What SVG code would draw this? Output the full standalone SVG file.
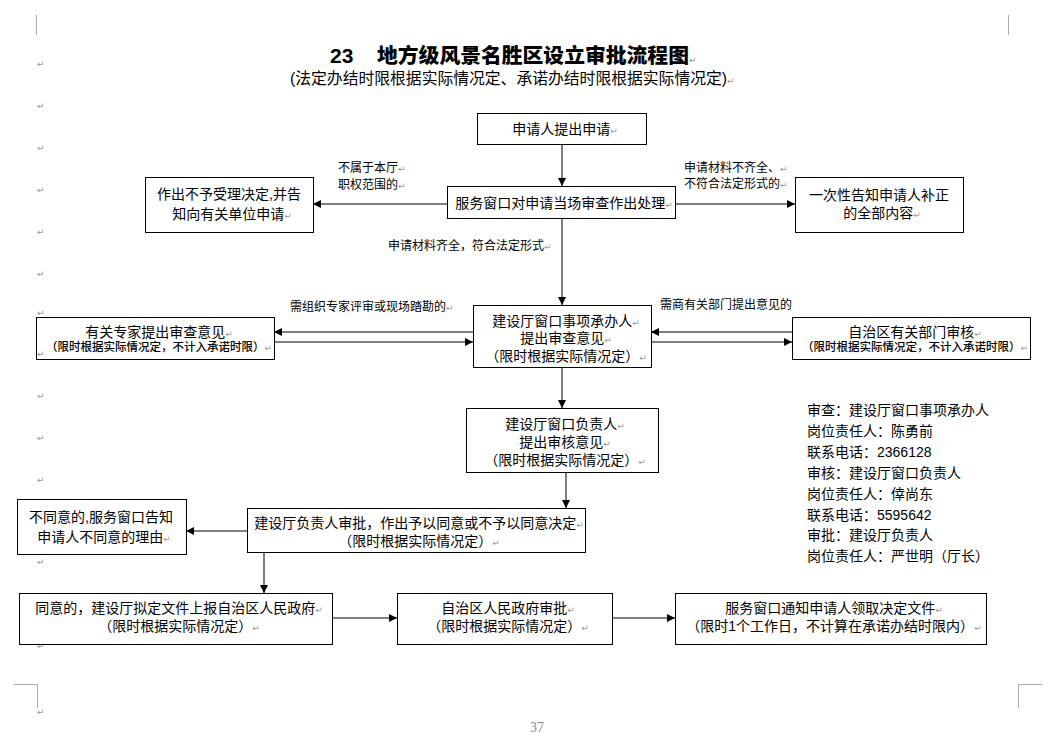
<svg xmlns="http://www.w3.org/2000/svg" width="1055" height="743" viewBox="0 0 1055 743">
<defs>
<marker id="ah" viewBox="0 0 10 10" refX="10" refY="5" markerWidth="9" markerHeight="8" orient="auto" markerUnits="userSpaceOnUse">
<path d="M0,0 L10,5 L0,10 z" fill="#000"/>
</marker>
<style>
.box{fill:#fff;stroke:#000;stroke-width:1}
.t{font-family:"Liberation Sans","Noto Sans CJK SC",sans-serif;font-size:14px;fill:#000;text-anchor:middle}
.ts{font-family:"Liberation Sans","Noto Sans CJK SC",sans-serif;font-size:11.5px;font-weight:500;fill:#000;text-anchor:middle}
.lb{font-family:"Liberation Sans","Noto Sans CJK SC",sans-serif;font-size:12px;fill:#000}
.info{font-family:"Liberation Sans","Noto Sans CJK SC",sans-serif;font-size:14px;fill:#000}
.pm{font-family:"DejaVu Sans",sans-serif;font-size:9px;fill:#999}
.c{fill:none;stroke:#000;stroke-width:1;marker-end:url(#ah)}
.crn{fill:none;stroke:#aaa;stroke-width:1}
</style>
</defs>
<rect width="1055" height="743" fill="#fff"/>

<g id="page-marks">
<path class="crn" d="M36.5,15 V35"/>
<path class="crn" d="M1008.5,15 V35"/>
<path class="crn" d="M14,684.5 H37.5 V708"/>
<path class="crn" d="M1042,684.5 H1018.5 V708"/>
<text x="537" y="732" font-family="Liberation Serif,serif" font-size="14" fill="#888" text-anchor="middle">37</text>
<text class="pm" x="37" y="67">↵</text>
<text class="pm" x="37" y="109">↵</text>
<text class="pm" x="37" y="151">↵</text>
<text class="pm" x="37" y="193">↵</text>
<text class="pm" x="37" y="235">↵</text>
<text class="pm" x="37" y="277">↵</text>
<text class="pm" x="37" y="316">↵</text>
<text class="pm" x="37" y="399">↵</text>
<text class="pm" x="37" y="441">↵</text>
<text class="pm" x="37" y="483">↵</text>
<text class="pm" x="37" y="565">↵</text>
<text class="pm" x="37" y="649">↵</text>
<text class="pm" x="37" y="715">↵</text>
</g>

<g id="title">
<text x="330" y="63" font-family="Liberation Sans,sans-serif" font-size="21" font-weight="bold" fill="#000">23</text>
<text x="377" y="63" font-family="Liberation Sans,Noto Sans CJK SC,sans-serif" font-size="20.8" font-weight="900" fill="#000">地方级风景名胜区设立审批流程图<tspan class="pm" font-weight="normal">↵</tspan></text>
<text x="290" y="84" font-family="Liberation Sans,Noto Sans CJK SC,sans-serif" font-size="15.8" fill="#000">(法定办结时限根据实际情况定、承诺办结时限根据实际情况定)<tspan class="pm">↵</tspan></text>
</g>

<g id="connectors">
<path class="c" d="M562,144 V186"/>
<path class="c" d="M447,204 H313"/>
<path class="c" d="M675,204 H795"/>
<path class="c" d="M562,218 V305"/>
<path class="c" d="M473,332 H274"/>
<path class="c" d="M274,342 H473"/>
<path class="c" d="M792,332 H651"/>
<path class="c" d="M651,342 H792"/>
<path class="c" d="M562,367 V408"/>
<path class="c" d="M566,472 V508"/>
<path class="c" d="M247,531 H186"/>
<path class="c" d="M264,552 V593"/>
<path class="c" d="M332,618 H397"/>
<path class="c" d="M612,618 H675"/>
</g>

<g id="labels">
<text class="lb" x="338" y="172">不属于本厅<tspan class="pm">↵</tspan></text>
<text class="lb" x="338" y="189">职权范围的<tspan class="pm">↵</tspan></text>
<text class="lb" x="684" y="172">申请材料不齐全、<tspan class="pm">↵</tspan></text>
<text class="lb" x="684" y="188">不符合法定形式的<tspan class="pm">↵</tspan></text>
<text class="lb" x="388" y="250">申请材料齐全，符合法定形式<tspan class="pm">↵</tspan></text>
<text class="lb" x="290" y="311">需组织专家评审或现场踏勘的<tspan class="pm">↵</tspan></text>
<text class="lb" x="660" y="309">需商有关部门提出意见的</text>
</g>

<g id="n1">
<rect class="box" x="477.5" y="113.5" width="169" height="31"/>
<text class="t" x="565" y="134">申请人提出申请<tspan class="pm">↵</tspan></text>
</g>
<g id="n2">
<rect class="box" x="447.5" y="186.5" width="228" height="32"/>
<text class="t" x="564" y="208">服务窗口对申请当场审查作出处理<tspan class="pm">↵</tspan></text>
</g>
<g id="n3">
<rect class="box" x="145.5" y="177.5" width="168" height="55"/>
<text class="t" x="229" y="199">作出不予受理决定,并告</text>
<text class="t" x="232" y="219">知向有关单位申请<tspan class="pm">↵</tspan></text>
</g>
<g id="n4">
<rect class="box" x="795.5" y="177.5" width="168" height="55"/>
<text class="t" x="879" y="200">一次性告知申请人补正</text>
<text class="t" x="882" y="218">的全部内容<tspan class="pm">↵</tspan></text>
</g>
<g id="n5">
<rect class="box" x="473.5" y="305.5" width="178" height="62"/>
<text class="t" x="566" y="326">建设厅窗口事项承办人<tspan class="pm">↵</tspan></text>
<text class="t" x="566" y="343">提出审查意见<tspan class="pm">↵</tspan></text>
<text class="t" x="566" y="361">（限时根据实际情况定）<tspan class="pm">↵</tspan></text>
</g>
<g id="n6">
<rect class="box" x="36.5" y="317.5" width="238" height="42"/>
<text class="t" x="159" y="337">有关专家提出审查意见<tspan class="pm">↵</tspan></text>
<text class="ts" x="159" y="351">（限时根据实际情况定，不计入承诺时限）<tspan class="pm" font-weight="normal">↵</tspan></text>
<text class="pm" x="37" y="357">↵</text>
</g>
<g id="n7">
<rect class="box" x="792.5" y="317.5" width="238" height="42"/>
<text class="t" x="915" y="337">自治区有关部门审核<tspan class="pm">↵</tspan></text>
<text class="ts" x="915" y="351">（限时根据实际情况定，不计入承诺时限）<tspan class="pm" font-weight="normal">↵</tspan></text>
</g>
<g id="n8">
<rect class="box" x="466.5" y="408.5" width="192" height="64"/>
<text class="t" x="565" y="429">建设厅窗口负责人<tspan class="pm">↵</tspan></text>
<text class="t" x="565" y="447">提出审核意见<tspan class="pm">↵</tspan></text>
<text class="t" x="565" y="465">（限时根据实际情况定）<tspan class="pm">↵</tspan></text>
</g>
<g id="n9">
<rect class="box" x="247.5" y="508.5" width="338" height="44"/>
<text class="t" x="419" y="528">建设厅负责人审批，作出予以同意或不予以同意决定<tspan class="pm">↵</tspan></text>
<text class="t" x="419" y="546">（限时根据实际情况定）<tspan class="pm">↵</tspan></text>
</g>
<g id="n10">
<rect class="box" x="17.5" y="499.5" width="169" height="55"/>
<text class="t" x="101" y="522">不同意的,服务窗口告知</text>
<text class="t" x="104" y="542">申请人不同意的理由<tspan class="pm">↵</tspan></text>
</g>
<g id="n11">
<rect class="box" x="19.5" y="593.5" width="313" height="51"/>
<text class="t" x="179" y="613">同意的，建设厅拟定文件上报自治区人民政府<tspan class="pm">↵</tspan></text>
<text class="t" x="179" y="631">（限时根据实际情况定）<tspan class="pm">↵</tspan></text>
</g>
<g id="n12">
<rect class="box" x="397.5" y="593.5" width="215" height="51"/>
<text class="t" x="508" y="613">自治区人民政府审批<tspan class="pm">↵</tspan></text>
<text class="t" x="508" y="631">（限时根据实际情况定）<tspan class="pm">↵</tspan></text>
</g>
<g id="n13">
<rect class="box" x="675.5" y="593.5" width="311" height="51"/>
<text class="t" x="834" y="613">服务窗口通知申请人领取决定文件<tspan class="pm">↵</tspan></text>
<text class="t" x="834" y="631">（限时1个工作日，不计算在承诺办结时限内）<tspan class="pm">↵</tspan></text>
</g>

<g id="info">
<text class="info" x="807" y="415">审查：建设厅窗口事项承办人</text>
<text class="info" x="807" y="436">岗位责任人：陈勇前</text>
<text class="info" x="807" y="457">联系电话：2366128</text>
<text class="info" x="807" y="478">审核：建设厅窗口负责人</text>
<text class="info" x="807" y="499">岗位责任人：倖尚东</text>
<text class="info" x="807" y="520">联系电话：5595642</text>
<text class="info" x="807" y="540">审批：建设厅负责人</text>
<text class="info" x="807" y="561">岗位责任人：严世明（厅长）</text>
</g>
</svg>
